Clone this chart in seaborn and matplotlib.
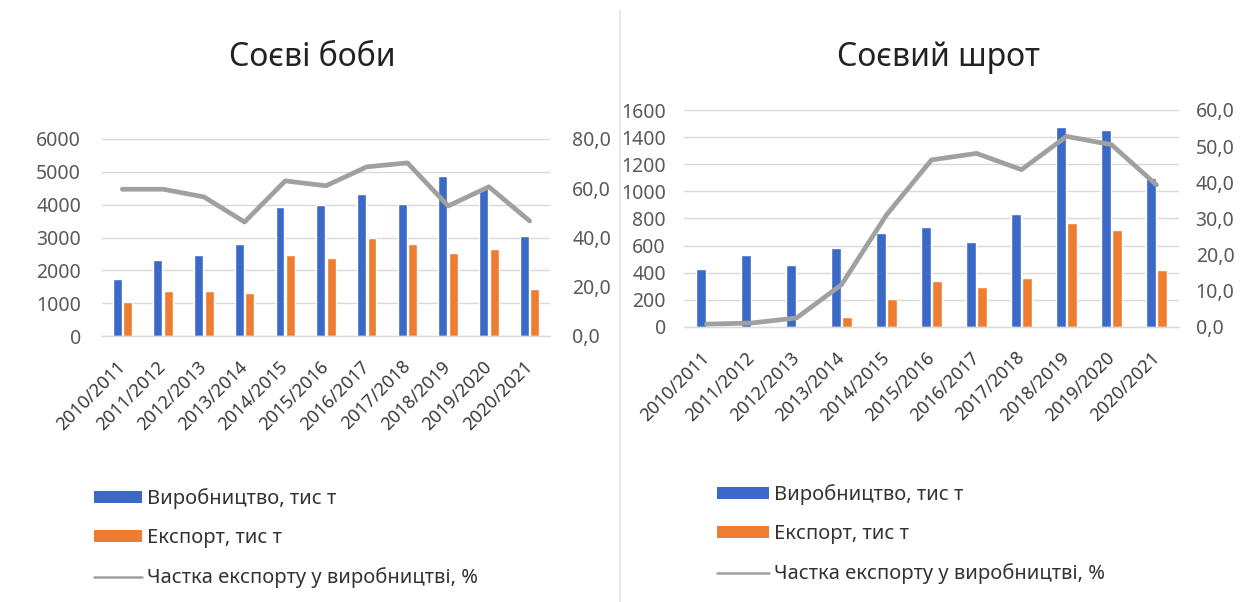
import numpy as np
import pandas as pd
import matplotlib
matplotlib.use("Agg")
import matplotlib.pyplot as plt
from matplotlib.patches import Patch
from matplotlib.lines import Line2D
from matplotlib.ticker import FuncFormatter, MultipleLocator
import seaborn as sns

# Marketing years
seasons = ["2010/2011", "2011/2012", "2012/2013", "2013/2014", "2014/2015",
           "2015/2016", "2016/2017", "2017/2018", "2018/2019", "2019/2020",
           "2020/2021"]

# Soybeans, thousand tonnes and export share, %
beans_production = [1730, 2310, 2460, 2810, 3930, 3980, 4340, 4010, 4860, 4520, 3050]
beans_export = [1040, 1370, 1370, 1300, 2460, 2390, 2980, 2790, 2540, 2660, 1420]
beans_share = [59.6, 59.6, 56.5, 46.3, 63.0, 61.0, 68.7, 70.3, 52.8, 60.6, 46.7]

# Soybean meal, thousand tonnes and export share, %
meal_production = [430, 530, 455, 585, 690, 740, 630, 835, 1475, 1455, 1095]
meal_export = [4, 6, 11, 74, 206, 341, 292, 361, 766, 717, 422]
meal_share = [0.8, 1.1, 2.5, 11.7, 31.0, 46.2, 48.0, 43.5, 52.7, 50.4, 39.3]

series_names = ["Виробництво, тис т", "Експорт, тис т",
                "Частка експорту у виробництві, %"]
titles = ["Соєві боби", "Соєвий шрот"]

BLUE = "#3b69c8"
ORANGE = "#ee7d31"
GRAY_LINE = "#a0a0a0"
GRID = "#d9d9d9"
TICK_TXT = "#595959"
FONT = ["Noto Sans", "DejaVu Sans"]

sns.set_theme(style="white")
plt.rcParams["font.family"] = FONT

W, H = 1246, 602
fig = plt.figure(figsize=(W / 100, H / 100), dpi=100)


def fx(px):
    return px / W


def fy(py):
    return 1 - py / H


def panel(box, production, export, share, ymax, ystep, smax, sstep,
          title, title_xy, left_pad, right_pad, legend_xy, handle_len):
    x0, y0, x1, y1 = box
    ax = fig.add_axes([fx(x0), fy(y1), fx(x1) - fx(x0), fy(y0) - fy(y1)])
    df = pd.DataFrame({
        "season": seasons * 2,
        "value": list(production) + list(export),
        "series": [series_names[0]] * len(seasons) + [series_names[1]] * len(seasons),
    })
    sns.barplot(data=df, x="season", y="value", hue="series",
                palette=[BLUE, ORANGE], width=0.52, gap=0.16,
                saturation=1, legend=False, ax=ax, zorder=2)
    ax.set_ylim(0, ymax)
    ax.yaxis.set_major_locator(MultipleLocator(ystep))
    ax.set_axisbelow(True)
    ax.grid(axis="y", color=GRID, lw=1)
    ax.grid(axis="x", visible=False)
    for s in ["top", "left", "right"]:
        ax.spines[s].set_visible(False)
    ax.spines["bottom"].set_color(GRID)
    ax.spines["bottom"].set_linewidth(1)
    ax.set_xlabel("")
    ax.set_ylabel("")
    ax.set_xticks(range(len(seasons)))
    ax.set_xticklabels(seasons, rotation=45, ha="right", va="center",
                       rotation_mode="anchor")
    ax.tick_params(axis="y", length=0, pad=left_pad, labelsize=14,
                   labelcolor=TICK_TXT)
    ax.tick_params(axis="x", length=0, pad=20, labelsize=13,
                   labelcolor="#3a3a3a")

    ax2 = ax.twinx()
    sns.lineplot(x=np.arange(len(seasons)), y=share, ax=ax2, color=GRAY_LINE,
                 lw=3.4, solid_joinstyle="round", solid_capstyle="round")
    ax2.set_ylim(0, smax)
    ax2.yaxis.set_major_locator(MultipleLocator(sstep))
    ax2.yaxis.set_major_formatter(
        FuncFormatter(lambda v, _: f"{v:.1f}".replace(".", ",")))
    ax2.grid(False)
    for s in ax2.spines.values():
        s.set_visible(False)
    ax2.set_ylabel("")
    ax2.tick_params(axis="y", length=0, pad=right_pad, labelsize=14,
                    labelcolor=TICK_TXT)
    ax.set_xlim(-0.5, len(seasons) - 0.5)

    fig.text(fx(title_xy[0]), fy(title_xy[1]), title, ha="center", va="center",
             fontsize=23, color="#222222", family=FONT)

    handles = [Patch(facecolor=BLUE, edgecolor="none"),
               Patch(facecolor=ORANGE, edgecolor="none"),
               Line2D([0], [0], color=GRAY_LINE, lw=1.8)]
    fig.legend(handles, series_names, loc="upper left",
               bbox_to_anchor=(fx(legend_xy[0]), fy(legend_xy[1])),
               bbox_transform=fig.transFigure, frameon=False,
               borderpad=0, borderaxespad=0, handlelength=handle_len,
               handleheight=0.5, handletextpad=0.25, labelspacing=0.95,
               prop={"family": FONT, "size": 14.5}, labelcolor="#333333")
    return ax, ax2


panel((102, 139, 550, 336),
      beans_production, beans_export, beans_share,
      6000, 1000, 80, 20, titles[0], (312, 57), 15, 16,
      (94, 488), 2.4)

panel((684, 110, 1179, 327),
      meal_production, meal_export, meal_share,
      1600, 200, 60, 10, titles[1], (938, 57), 13, 12,
      (717, 484), 2.6)

# Divider between the two panels
fig.add_artist(Line2D([fx(620), fx(620)], [0, fy(10)], color="#e3e3e3",
                      lw=1.2, transform=fig.transFigure))

fig.savefig("out.png", dpi=100, facecolor="white")
